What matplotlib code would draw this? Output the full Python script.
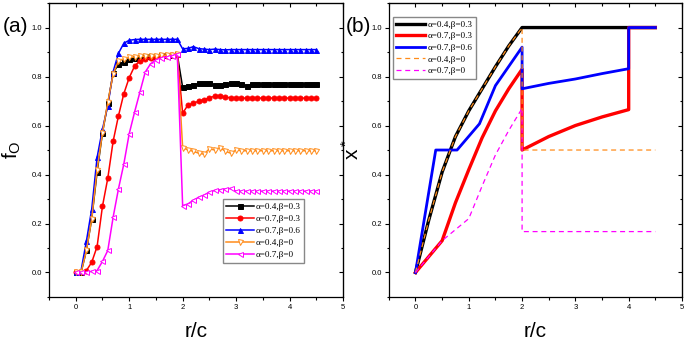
import numpy as np
import matplotlib
matplotlib.use('Agg')
import matplotlib.pyplot as plt
from matplotlib.ticker import MultipleLocator, NullFormatter, FormatStrFormatter

# ---- panel (a): simulation, r/c from 0 to 4.5 in steps of 0.1
r_a = np.round(np.arange(0, 4.55, 0.1), 1)

f_04_03 = [0, 0.0, 0.09, 0.22, 0.41, 0.57, 0.69, 0.815, 0.85, 0.86,
           0.87, 0.875, 0.878, 0.882, 0.884, 0.885, 0.886, 0.887, 0.888, 0.89,
           0.756, 0.76, 0.765, 0.772, 0.773, 0.773, 0.766, 0.766, 0.768, 0.773,
           0.773, 0.77, 0.762, 0.768] + [0.768] * 12
f_07_03 = [0, 0, 0.008, 0.042, 0.106, 0.27, 0.385, 0.536, 0.64, 0.73,
           0.795, 0.842, 0.865, 0.872, 0.876, 0.879, 0.882, 0.884, 0.886, 0.888,
           0.65, 0.684, 0.69, 0.70, 0.705, 0.713, 0.72, 0.72, 0.716, 0.713] + [0.712] * 16
f_07_06 = [0, 0.008, 0.128, 0.26, 0.47, 0.585, 0.68, 0.82, 0.895, 0.936,
           0.948, 0.951] + [0.952] * 8 + \
          [0.913, 0.915, 0.922, 0.914, 0.912, 0.91, 0.912, 0.91, 0.909] + [0.91] * 17
f_04_0 = [0, 0.0, 0.09, 0.22, 0.42, 0.57, 0.695, 0.81, 0.865, 0.872,
          0.878, 0.88, 0.882, 0.883, 0.884, 0.885, 0.886, 0.887, 0.889, 0.892,
          0.51, 0.5, 0.495, 0.487, 0.483, 0.505, 0.5, 0.51, 0.495, 0.487,
          0.5] + [0.497] * 15
f_07_0 = [0, 0, 0, 0.005, 0.008, 0.045, 0.09, 0.226, 0.342, 0.443,
          0.566, 0.654, 0.736, 0.818, 0.852, 0.868, 0.876, 0.88, 0.885, 0.892,
          0.273, 0.28, 0.295, 0.307, 0.316, 0.328, 0.335, 0.338, 0.341, 0.343,
          0.332] + [0.332] * 15

# ---- panel (b): analytic x*
xb_04_03 = [0, 0.25, 0.5, 0.75, 1.0, 1.25, 1.5, 1.75, 2.0, 4.5]
yb_04_03 = [0, 0.215, 0.41, 0.555, 0.66, 0.75, 0.84, 0.925, 1.0, 1.0]
xb_07_03 = [0, 0.5, 0.75, 1.0, 1.25, 1.5, 1.75, 2.0, 2.0, 2.5, 3.0, 3.5, 4.0, 4.0, 4.5]
yb_07_03 = [0, 0.13, 0.285, 0.42, 0.55, 0.66, 0.75, 0.83, 0.5, 0.555, 0.6, 0.635, 0.665, 1.0, 1.0]
xb_07_06 = [0, 0.38, 0.78, 1.2, 1.5, 2.0, 2.0, 2.5, 3.0, 3.5, 4.0, 4.0, 4.5]
yb_07_06 = [0, 0.5, 0.5, 0.607, 0.763, 0.92, 0.75, 0.772, 0.79, 0.812, 0.832, 1.0, 1.0]
xb_04_0 = [0, 0.25, 0.5, 0.75, 1.0, 1.25, 1.5, 1.75, 2.0, 2.0, 4.5]
yb_04_0 = [0, 0.215, 0.41, 0.555, 0.66, 0.75, 0.84, 0.925, 1.0, 0.5, 0.5]
xb_07_0 = [0, 0.5, 1.0, 1.25, 1.5, 1.75, 2.0, 2.0, 4.5]
yb_07_0 = [0, 0.13, 0.22, 0.353, 0.48, 0.58, 0.67, 0.167, 0.167]

labels = ['α=0.4,β=0.3', 'α=0.7,β=0.3', 'α=0.7,β=0.6', 'α=0.4,β=0', 'α=0.7,β=0']
colors = ['black', '#ff0000', '#0000ff', '#ff8c1a', '#ff00ff']

plt.rcParams['font.family'] = ['Liberation Sans', 'DejaVu Sans']

fig = plt.figure(figsize=(6.87, 3.40), dpi=100)
axa = fig.add_axes([0.0713, 0.1265, 0.428, 0.8645])
axb = fig.add_axes([0.566, 0.1265, 0.4267, 0.8645])


def style(ax):
    ax.set_xlim(-0.5, 5)
    ax.set_ylim(-0.1, 1.1)
    ax.xaxis.set_major_locator(MultipleLocator(1))
    ax.xaxis.set_minor_locator(MultipleLocator(0.5))
    ax.yaxis.set_major_locator(MultipleLocator(0.2))
    ax.yaxis.set_minor_locator(MultipleLocator(0.1))
    ax.yaxis.set_major_formatter(FormatStrFormatter('%.1f'))
    ax.tick_params(which='major', direction='out', length=3, width=0.8, labelsize=5.5, pad=2)
    ax.tick_params(which='minor', direction='out', length=1.8, width=0.8)
    for s in ax.spines.values():
        s.set_linewidth(0.9)
    # inward ticks on top and right
    top = ax.secondary_xaxis('top')
    top.xaxis.set_major_locator(MultipleLocator(1))
    top.xaxis.set_minor_locator(MultipleLocator(0.5))
    top.xaxis.set_major_formatter(NullFormatter())
    top.tick_params(which='major', direction='in', length=3, width=0.8)
    top.tick_params(which='minor', direction='in', length=1.8, width=0.8)
    right = ax.secondary_yaxis('right')
    right.yaxis.set_major_locator(MultipleLocator(0.2))
    right.yaxis.set_minor_locator(MultipleLocator(0.1))
    right.yaxis.set_major_formatter(NullFormatter())
    right.tick_params(which='major', direction='in', length=3, width=0.8)
    right.tick_params(which='minor', direction='in', length=1.8, width=0.8)
    ax.set_xlabel('r/c', fontsize=15, labelpad=8)


# panel (a)
series_a = [f_04_03, f_07_03, f_07_06, f_04_0, f_07_0]
markers = ['s', 'o', '^', 'v', '<']
for i, ys in enumerate(series_a):
    filled = i < 3
    axa.plot(r_a, ys, color=colors[i], lw=1.1, marker=markers[i], ms=3.6,
             markerfacecolor=colors[i] if filled else 'white',
             markeredgecolor=colors[i], markeredgewidth=0.7, label=labels[i])
style(axa)
axa.set_ylabel(r'$\mathregular{f_O}$', fontsize=15, labelpad=6)
axa.legend(loc='upper left', bbox_to_anchor=(0.592, 0.332), prop={'family': 'Liberation Serif', 'size': 6.6},
           fancybox=False, edgecolor='#888888', framealpha=1, handlelength=3.0,
           borderpad=0.35, labelspacing=0.4, handletextpad=0.2, borderaxespad=0)

# panel (b)
series_b = [(xb_04_03, yb_04_03, '-', 2.4), (xb_07_03, yb_07_03, '-', 2.4),
            (xb_07_06, yb_07_06, '-', 2.0), (xb_04_0, yb_04_0, '--', 0.9),
            (xb_07_0, yb_07_0, '--', 0.9)]
for i, (xs, ys, ls, lw) in enumerate(series_b):
    axb.plot(xs, ys, color=colors[i], ls=ls, lw=lw, label=labels[i],
             dashes=(4, 3) if ls == '--' else (None, None))
style(axb)
axb.set_ylabel(r'$\mathregular{x^*}$', fontsize=15, labelpad=6)
axb.legend(loc='upper left', bbox_to_anchor=(0.014, 0.952), prop={'family': 'Liberation Serif', 'size': 6.6},
           fancybox=False, edgecolor='#888888', framealpha=1, handlelength=3.2,
           borderpad=0.35, labelspacing=0.35, handletextpad=0.2, borderaxespad=0)

fig.text(15 / 687, 1 - 26 / 340, '(a)', fontsize=15, ha='center', va='center')
fig.text(358 / 687, 1 - 26 / 340, '(b)', fontsize=15, ha='center', va='center')

fig.savefig('out.png', dpi=100)
